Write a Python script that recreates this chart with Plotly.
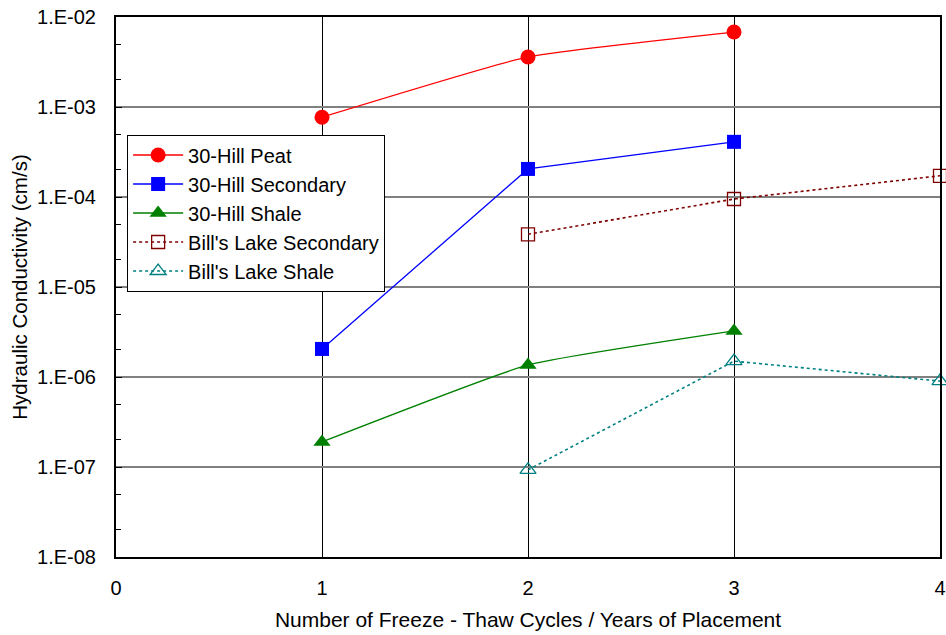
import plotly.graph_objects as go

x_peat = [1, 2, 3]
y_peat = [7.7e-4, 3.6e-3, 6.8e-3]
x_sec = [1, 2, 3]
y_sec = [2.05e-6, 2.05e-4, 4.1e-4]
x_shale = [1, 2, 3]
y_shale = [1.9e-7, 1.36e-6, 3.25e-6]
x_bl_sec = [2, 3, 4]
y_bl_sec = [3.85e-5, 9.5e-5, 1.72e-4]
x_bl_shale = [2, 3, 4]
y_bl_shale = [9.3e-8, 1.5e-6, 9.0e-7]

y_tickvals = [1e-8, 1e-7, 1e-6, 1e-5, 1e-4, 1e-3, 1e-2]
y_ticktext = ["1.E-08", "1.E-07", "1.E-06", "1.E-05", "1.E-04", "1.E-03", "1.E-02"]
x_tickvals = [0, 1, 2, 3, 4]

FONT = "Liberation Sans, Arial, sans-serif"

fig = go.Figure()
fig.add_trace(go.Scatter(x=x_peat, y=y_peat, name="30-Hill Peat", mode="lines+markers",
                         line=dict(color="#ff0000", width=1.3, shape="spline", smoothing=0.4),
                         marker=dict(symbol="circle", size=15, color="#ff0000"), cliponaxis=False))
fig.add_trace(go.Scatter(x=x_sec, y=y_sec, name="30-Hill Secondary", mode="lines+markers",
                         line=dict(color="#0000ff", width=1.3),
                         marker=dict(symbol="square", size=14, color="#0000ff"), cliponaxis=False))
fig.add_trace(go.Scatter(x=x_shale, y=y_shale, name="30-Hill Shale", mode="lines+markers",
                         line=dict(color="#008000", width=1.3, shape="spline", smoothing=0.4),
                         marker=dict(symbol="triangle-up", size=15, color="#008000"), cliponaxis=False))
fig.add_trace(go.Scatter(x=x_bl_sec, y=y_bl_sec, name="Bill's Lake Secondary", mode="lines+markers",
                         line=dict(color="#800000", width=1.6, dash="dot"),
                         marker=dict(symbol="square-open", size=13, color="#800000", line=dict(width=1.3)),
                         cliponaxis=False))
fig.add_trace(go.Scatter(x=x_bl_shale, y=y_bl_shale, name="Bill's Lake Shale", mode="lines+markers",
                         line=dict(color="#008080", width=1.6, dash="dot"),
                         marker=dict(symbol="triangle-up-open", size=14, color="#008080", line=dict(width=1.3)),
                         cliponaxis=False))

fig.update_layout(
    width=946, height=635,
    margin=dict(l=116, r=6, t=17, b=78, autoexpand=False),
    paper_bgcolor="white", plot_bgcolor="white",
    font=dict(family=FONT, size=20, color="black"),
    showlegend=True,
    legend=dict(x=0.0135, y=0.637, xanchor="left", yanchor="middle",
                bgcolor="white", bordercolor="black", borderwidth=1,
                font=dict(family=FONT, size=20), tracegroupgap=0, itemwidth=50),
    xaxis=dict(range=[0, 4], tickvals=x_tickvals, showgrid=True, gridcolor="black", gridwidth=1,
               showline=True, linecolor="black", linewidth=2, mirror=True, ticks="",
               zeroline=False, ticklabelstandoff=12, automargin=False,
               title=dict(text="Number of Freeze - Thaw Cycles / Years of Placement", standoff=14,
                          font=dict(size=21))),
    yaxis=dict(type="log", range=[-8, -2], tickvals=y_tickvals, ticktext=y_ticktext,
               showgrid=True, gridcolor="#808080", gridwidth=1.5,
               showline=True, linecolor="black", linewidth=2, mirror=True,
               ticks="inside", ticklen=6, tickcolor="black",
               minor=dict(ticks="inside", ticklen=5, tickcolor="black", showgrid=False),
               zeroline=False, ticklabelstandoff=14, automargin=False,
               title=dict(text="Hydraulic Conductivity (cm/s)", standoff=4, font=dict(size=20.5))),
)

fig.write_html("out.html", config={"displayModeBar": False},
               post_script="document.body.style.margin='0px';")
